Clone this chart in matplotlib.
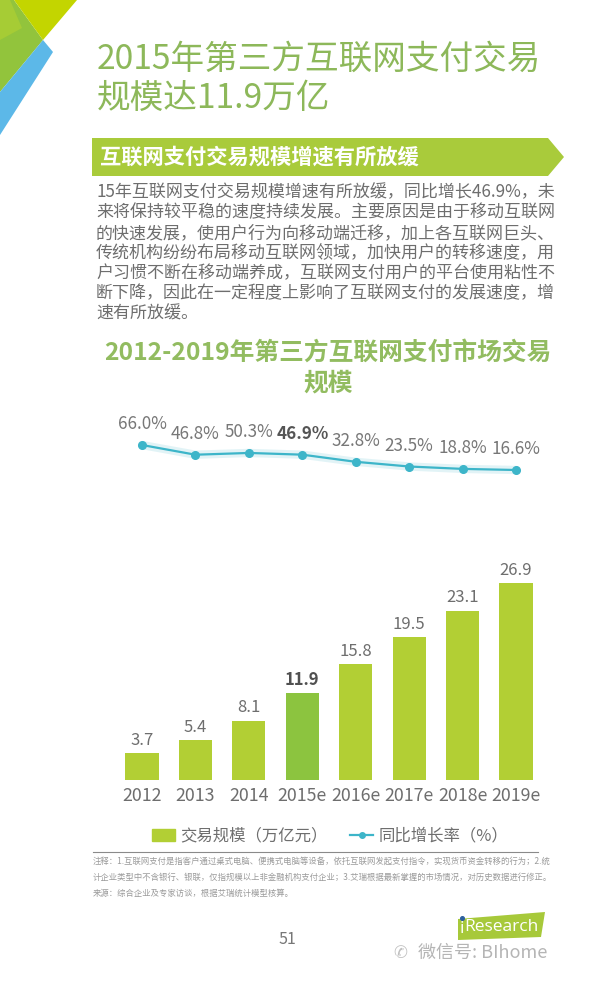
import matplotlib
matplotlib.use('Agg')
import matplotlib.pyplot as plt
from matplotlib.patches import Polygon, Rectangle
from matplotlib.lines import Line2D

plt.rcParams['font.family'] = ['Noto Sans CJK SC', 'DejaVu Sans']

# ---- data ----
years = ['2012', '2013', '2014', '2015e', '2016e', '2017e', '2018e', '2019e']
volume = [3.7, 5.4, 8.1, 11.9, 15.8, 19.5, 23.1, 26.9]      # 万亿元
growth = [66.0, 46.8, 50.3, 46.9, 32.8, 23.5, 18.8, 16.6]   # %
highlight = 3  # 2015e

title_lines = ['2015年第三方互联网支付交易', '规模达11.9万亿']
band_text = '互联网支付交易规模增速有所放缓'
para_lines = [
    '15年互联网支付交易规模增速有所放缓，同比增长46.9%，未',
    '来将保持较平稳的速度持续发展。主要原因是由于移动互联网',
    '的快速发展，使用户行为向移动端迁移，加上各互联网巨头、',
    '传统机构纷纷布局移动互联网领域，加快用户的转移速度，用',
    '户习惯不断在移动端养成，互联网支付用户的平台使用粘性不',
    '断下降，因此在一定程度上影响了互联网支付的发展速度，增',
    '速有所放缓。',
]
chart_title = ['2012-2019年第三方互联网支付市场交易', '规模']
notes = [
    '注释：1.互联网支付是指客户通过桌式电脑、便携式电脑等设备，依托互联网发起支付指令，实现货币资金转移的行为；2.统',
    '计企业类型中不含银行、银联，仅指规模以上非金融机构支付企业；3.艾瑞根据最新掌握的市场情况，对历史数据进行修正。',
    '来源：综合企业及专家访谈，根据艾瑞统计模型核算。',
]

W, H = 600, 984
c_bar = '#B2CF34'
c_bar_hi = '#8CC43F'
c_line = '#3DB5C9'
c_title = '#8DB85A'
c_gray = '#6E6E6E'

fig = plt.figure(figsize=(W / 100, H / 100), dpi=100, facecolor='white')

# overlay in pixel coordinates for page furniture
bg = fig.add_axes([0, 0, 1, 1])
bg.set_xlim(0, W)
bg.set_ylim(H, 0)
bg.axis('off')

# corner decoration
bg.add_patch(Polygon([(0, 0), (14, 0), (43, 40), (0, 92)], closed=True, color='#92C43C', lw=0))
bg.add_patch(Polygon([(14, 0), (77, 0), (43, 40)], closed=True, color='#C3D500', lw=0))
bg.add_patch(Polygon([(0, 0), (10, 0), (22, 28), (0, 40)], closed=True, color='#A6CC35', lw=0))
bg.add_patch(Polygon([(43, 40), (53, 52), (0, 135), (0, 92)], closed=True, color='#5CB8E8', lw=0))

# page title
bg.text(97, 59, title_lines[0], fontsize=24.2, color=c_title, va='center', ha='left')
bg.text(97, 98, title_lines[1], fontsize=24.2, color=c_title, va='center', ha='left')

# header band (arrow)
bg.add_patch(Polygon([(92, 138), (548, 138), (564, 157), (548, 176), (92, 176)],
                     closed=True, color='#A9CB3B', lw=0))
bg.text(100, 157, band_text, fontsize=15.3, color='white', fontweight='bold',
        va='center', ha='left')

# paragraph
for i, line in enumerate(para_lines):
    bg.text(96, 192.5 + i * 20.1, line, fontsize=12.25, color=c_gray, va='center', ha='left')

# chart title
bg.text(328, 353, chart_title[0], fontsize=17.8, color='#92BC60', fontweight='bold',
        va='center', ha='center')
bg.text(328, 383, chart_title[1], fontsize=17.8, color='#92BC60', fontweight='bold',
        va='center', ha='center')

# chart geometry (pixels)
x_left = 115.3
x_right = 542.7
ax_w = (x_right - x_left) / W

# ---- bar chart ----
bar_bottom_px, bar_top_px = 780, 560
axb = fig.add_axes([x_left / W, (H - bar_bottom_px) / H, ax_w,
                    (bar_bottom_px - bar_top_px) / H])
xs = list(range(len(years)))
colors = [c_bar_hi if i == highlight else c_bar for i in xs]
bars = axb.bar(xs, volume, width=0.62, color=colors, zorder=2)
axb.set_xlim(-0.5, len(years) - 0.5)
axb.set_ylim(0, 30)
for s in axb.spines.values():
    s.set_visible(False)
axb.set_yticks([])
axb.set_xticks(xs)
axb.set_xticklabels(years, fontsize=12.8, color=c_gray)
axb.tick_params(axis='x', length=0, pad=5)
for i, b in enumerate(bars):
    axb.annotate(f'{volume[i]:.1f}', (b.get_x() + b.get_width() / 2, b.get_height()),
                 xytext=(0, 3), textcoords='offset points', ha='center', va='bottom',
                 fontsize=12, color='#505050' if i == highlight else c_gray,
                 fontweight='bold' if i == highlight else 'normal')
axb.patch.set_alpha(0)

# ---- growth line ----
line_bottom_px, line_top_px = 478.4, 427.8
axl = fig.add_axes([x_left / W, (H - line_bottom_px) / H, ax_w,
                    (line_bottom_px - line_top_px) / H])
axl.plot(xs, growth, color=c_line, lw=6, alpha=0.15, solid_capstyle='round')
ln, = axl.plot(xs, growth, color=c_line, lw=1.6, marker='o', markersize=5.5,
               markeredgecolor=c_line, markerfacecolor=c_line)
axl.set_xlim(-0.5, len(years) - 0.5)
axl.set_ylim(0, 100)
axl.axis('off')
for i, v in enumerate(growth):
    axl.annotate(f'{v:.1f}%', (xs[i], v), xytext=(0, 15), textcoords='offset points',
                 ha='center', va='center', fontsize=12.3,
                 color='#555555' if i == highlight else '#777777',
                 fontweight='bold' if i == highlight else 'normal')

# legend
h_bar = Rectangle((0, 0), 1, 1, color=c_bar)
h_line = Line2D([0], [0], color=c_line, lw=1.6, marker='o', markersize=4)
fig.legend([h_bar, h_line], ['交易规模（万亿元）', '同比增长率（%）'],
           loc='center', bbox_to_anchor=(330 / W, 1 - 836 / H), ncol=2,
           frameon=False, fontsize=11.8, handlelength=1.4, handleheight=0.8,
           handletextpad=0.3, columnspacing=1.4, labelcolor=c_gray)

# separator and notes
bg.plot([93, 538], [852, 852], color='#8A8A8A', lw=0.8)
for i, t in enumerate(notes):
    bg.text(93, 861 + i * 16, t, fontsize=6.0, color='#9A9A9A', va='center', ha='left')

# page number
bg.text(287, 940, '51', fontsize=11.5, color='#777777', va='center', ha='center')

# iResearch tag
bg.add_patch(Polygon([(458, 919), (545, 912), (541, 937), (458, 940)], closed=True,
                     color='#A7C93A', lw=0))
bg.text(501, 927, 'Research', fontsize=12.5, color='white', va='center', ha='center',
        family=['Open Sans', 'DejaVu Sans'])
bg.text(462, 929, 'i', fontsize=12.5, color='white', va='center', ha='center',
        family=['Open Sans', 'DejaVu Sans'])
bg.plot([462], [918], marker='o', markersize=2.6, color='#2C5F9E')

# watermark
bg.text(418, 953, '微信号: BIhome', fontsize=13, color='#B5B5B5', va='center', ha='left')
bg.text(400, 953, '✆', fontsize=12, color='#C0C0C0', va='center', ha='center',
        family=['DejaVu Sans'])

fig.savefig('out.png', dpi=100, facecolor='white')
